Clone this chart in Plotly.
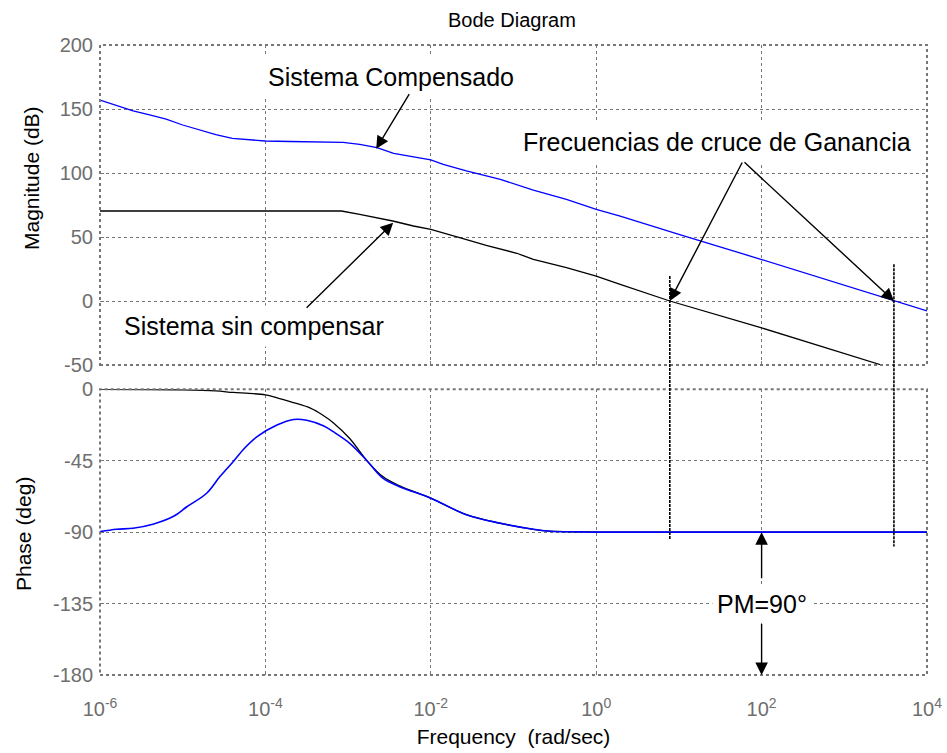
import plotly.graph_objects as go

# ---------------- data ----------------
# compensated system magnitude (log10 frequency, dB)
mag_comp_logf = [-6.0, -5.8, -5.6, -5.4, -5.2, -5.0, -4.8, -4.6, -4.4, -4.2, -4.0, -3.7, -3.4, -3.06,
                 -2.86, -2.65, -2.45, -2.2, -2.0, -1.85, -1.57, -1.16, -0.76, -0.36, 0.0, 0.29, 1.0, 2.0, 3.0, 4.0]
mag_comp_db = [157.0, 152.5, 148.5, 145.5, 142.0, 137.5, 133.5, 130.0, 127.0, 125.8, 125.0, 124.6, 124.2, 124.0,
               122.4, 119.8, 115.4, 112.5, 110.2, 106.8, 101.6, 95.0, 86.7, 79.4, 71.6, 66.4, 52.0, 32.4, 12.4, -7.8]

# uncompensated system magnitude
mag_unc_logf = [-6.0, -4.0, -3.08, -2.86, -2.46, -2.21, -2.0, -1.61, -1.33, -0.96, -0.76, -0.36, 0.0, 0.29,
                0.89, 1.98, 3.45]
mag_unc_db = [70.3, 70.3, 70.3, 67.7, 62.5, 58.6, 56.0, 48.7, 43.5, 37.3, 32.6, 26.0, 19.5, 13.0,
              0.0, -20.6, -50.0]

# uncompensated phase (deg)
ph_unc_logf = [-6.0, -5.0, -4.6, -4.39, -4.2, -4.0, -3.85, -3.7, -3.45, -3.3, -3.18, -2.98, -2.78, -2.58,
               -2.37, -2.0, -1.57, -1.16, -0.76, -0.56, -0.2, 0.0, 4.0]
ph_unc_deg = [0.0, -0.3, -1.0, -2.0, -2.6, -3.5, -5.5, -7.8, -12.0, -16.5, -21.0, -31.0, -44.5, -55.0,
              -61.0, -68.6, -79.0, -84.4, -88.2, -89.4, -89.8, -90.0, -90.0]

# compensated phase (deg)
ph_comp_logf = [-6.0, -5.8, -5.6, -5.36, -5.11, -4.95, -4.71, -4.55, -4.39, -4.25, -4.1, -3.86, -3.66, -3.5,
                -3.3, -3.18, -2.98, -2.78, -2.58, -2.37, -2.0, -1.57, -1.16, -0.76, -0.56, -0.2, 0.0, 4.0]
ph_comp_deg = [-89.7, -88.2, -87.5, -85.0, -80.0, -74.0, -65.5, -55.0, -45.6, -37.0, -29.8, -22.5, -19.0, -19.5,
               -23.0, -26.7, -34.0, -44.5, -56.0, -61.5, -68.6, -79.0, -84.4, -88.2, -89.4, -89.8, -90.0, -90.0]

# gain crossover frequencies (rad/s) and the extent of their marker lines
wc_unc = 10 ** 0.89
wc_comp = 10 ** 3.60
mark_top_db = [19.5, 28.7]
mark_bot_deg = [-95.0, -99.0]

x_tick_exp = [-6, -4, -2, 0, 2, 4]
mag_ticks = [-50, 0, 50, 100, 150, 200]
ph_ticks = [-180, -135, -90, -45, 0]

# ---------------- figure ----------------
FONT = "Liberation Sans, Arial, sans-serif"
GRID = "#767676"
TICKC = "#6e6e6e"

dom_mag = [(675 - 365) / 630, 1.0]
dom_ph = [0.0, (675 - 389.3) / 630]


def yp_mag(v):
    return dom_mag[0] + (v + 50) / 250 * (dom_mag[1] - dom_mag[0])


def yp_ph(v):
    return dom_ph[0] + (v + 180) / 180 * (dom_ph[1] - dom_ph[0])


fig = go.Figure()
fig.add_trace(go.Scatter(x=[10 ** v for v in mag_unc_logf], y=mag_unc_db, mode="lines",
                         line=dict(color="black", width=1.3), xaxis="x", yaxis="y", showlegend=False))
fig.add_trace(go.Scatter(x=[10 ** v for v in mag_comp_logf], y=mag_comp_db, mode="lines",
                         line=dict(color="#0000ff", width=1.3), xaxis="x", yaxis="y", showlegend=False))
fig.add_trace(go.Scatter(x=[10 ** v for v in ph_unc_logf], y=ph_unc_deg, mode="lines", line_shape="spline",
                         line=dict(color="black", width=1.3), xaxis="x2", yaxis="y2", showlegend=False))
fig.add_trace(go.Scatter(x=[10 ** v for v in ph_comp_logf], y=ph_comp_deg, mode="lines", line_shape="spline",
                         line=dict(color="#0000ff", width=1.6), xaxis="x2", yaxis="y2", showlegend=False))

xcommon = dict(type="log", range=[-6, 4], tickvals=[10 ** e for e in x_tick_exp], automargin=False,
               showgrid=True, gridcolor=GRID, griddash="dot", gridwidth=1.3,
               ticks="inside", ticklen=4, tickcolor=GRID, showline=False, zeroline=False,
               tickfont=dict(size=20, color=TICKC, family=FONT))
ycommon = dict(showgrid=True, gridcolor=GRID, griddash="dot", gridwidth=1.3, automargin=False,
               ticks="inside", ticklen=4, tickcolor=GRID, showline=False, zeroline=False,
               tickfont=dict(size=20, color=TICKC, family=FONT), ticklabelstandoff=6)

fig.update_layout(
    width=947, height=753,
    margin=dict(l=100, r=20, t=45, b=78),
    paper_bgcolor="white", plot_bgcolor="white",
    font=dict(family=FONT, color="black"),
    xaxis=dict(xcommon, domain=[0, 1], anchor="y", showticklabels=False),
    xaxis2=dict(xcommon, domain=[0, 1], anchor="y2", showticklabels=True,
                ticktext=["10<sup>%d</sup>" % e for e in x_tick_exp], ticklabelstandoff=20,
                title=dict(text="Frequency  (rad/sec)", font=dict(size=21, color="black"), standoff=10)),
    yaxis=dict(ycommon, domain=dom_mag, anchor="x", range=[-50, 200], tickvals=mag_ticks,
               ticktext=[str(v) for v in mag_ticks]),
    yaxis2=dict(ycommon, domain=dom_ph, anchor="x2", range=[-180, 0], tickvals=ph_ticks,
                ticktext=[str(v) for v in ph_ticks]),
)

shapes = []
# dotted axes boxes
for xr, yr in (("x domain", "y domain"), ("x2 domain", "y2 domain")):
    shapes.append(dict(type="rect", xref=xr, yref=yr, x0=0, x1=1, y0=0, y1=1,
                       line=dict(color=GRID, width=2, dash="dot"), layer="above"))
# crossover marker lines spanning both axes
for wc, top, bot in zip([wc_unc, wc_comp], mark_top_db, mark_bot_deg):
    shapes.append(dict(type="line", xref="x", yref="paper", x0=wc, x1=wc,
                       y0=yp_mag(top), y1=yp_ph(bot),
                       line=dict(color="black", width=1.6, dash="3px,1px"), layer="above"))
fig.update_layout(shapes=shapes)

ann = []
# title and y-axis labels
ann.append(dict(text="Bode Diagram", xref="paper", yref="paper", x=(511.5 - 100) / 827, y=(675 - 20) / 630,
                showarrow=False, xanchor="center", yanchor="middle", font=dict(size=20, color="black")))
ann.append(dict(text="Magnitude (dB)", xref="paper", yref="paper", x=(31 - 100) / 827, y=(675 - 178) / 630,
                showarrow=False, textangle=-90, xanchor="center", yanchor="middle",
                font=dict(size=21, color="black")))
ann.append(dict(text="Phase (deg)", xref="paper", yref="paper", x=(23 - 100) / 827, y=(675 - 534) / 630,
                showarrow=False, textangle=-90, xanchor="center", yanchor="middle",
                font=dict(size=21, color="black")))

# text boxes (log10 x positions on the log axes)
box = dict(showarrow=False, bgcolor="white", borderpad=6, font=dict(size=25, color="black"),
           xanchor="center", yanchor="middle")
ann.append(dict(box, text="Sistema Compensado", xref="x", yref="y", x=-2.476, y=174.8))
ann.append(dict(box, text="Sistema sin compensar", xref="x", yref="y", x=-4.135, y=-19.8))
ann.append(dict(box, text="Frecuencias de cruce de Ganancia", xref="x", yref="y", x=1.456, y=124.0))
ann.append(dict(box, text="PM=90°", xref="x2", yref="y2", x=2.0, y=-135.0, borderpad=4))

# arrows: (xref, yref, head x, head y, tail x, tail y)
arrows = [
    ("x", "y", -2.66, 119.0, -2.25, 162.8),
    ("x", "y", -2.455, 61.2, -3.52, -6.5),
    ("x", "y", 0.89, 0.0, 1.775, 109.4),
    ("x", "y", 3.60, 0.0, 1.775, 109.4),
    ("x2", "y2", 2.0, -90.0, 2.0, -120.0),
    ("x2", "y2", 2.0, -180.0, 2.0, -147.0),
]
for xr, yr, hx, hy, tx, ty in arrows:
    ann.append(dict(text="", xref=xr, yref=yr, x=hx, y=hy, axref=xr, ayref=yr, ax=tx, ay=ty,
                    showarrow=True, arrowhead=2, arrowsize=1.8, arrowwidth=1.4, arrowcolor="black",
                    standoff=0))
fig.update_layout(annotations=ann)

fig.write_html("out.html")
